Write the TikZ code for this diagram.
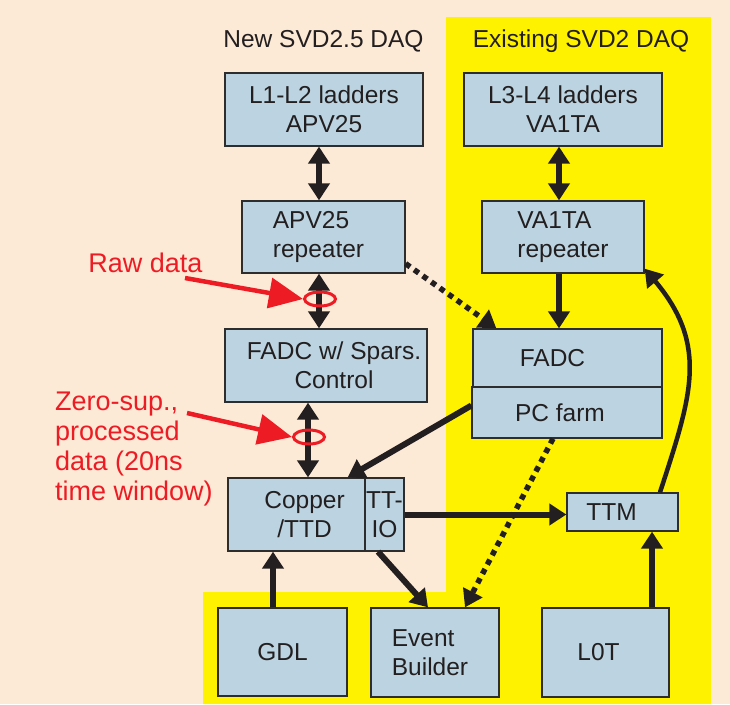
\documentclass[tikz,border=0pt]{standalone}
\usepackage{fontspec}
\setmainfont{Liberation Sans}
\usetikzlibrary{arrows.meta,shapes.geometric}
\definecolor{peach}{RGB}{253,234,214}
\definecolor{slideyellow}{RGB}{255,242,0}
\definecolor{boxblue}{RGB}{188,212,225}
\definecolor{boxline}{RGB}{45,45,45}
\definecolor{inkblack}{RGB}{35,31,32}
\definecolor{markred}{RGB}{237,28,36}
\begin{document}
\begin{tikzpicture}[
        x=1pt, y=-1pt,
        box/.style={draw=boxline, line width=1.3pt, fill=boxblue, inner sep=0pt, text=inkblack, align=center, font=\fontsize{24.5}{29}\selectfont},
        heading/.style={inner sep=0pt, text=inkblack, font=\fontsize{24.5}{29}\selectfont},
        redlabel/.style={inner sep=0pt, text=markred, align=left, font=\fontsize{27}{30}\selectfont},
        ring/.style={draw=markred, line width=3pt, ellipse, minimum width=31pt, minimum height=14pt, inner sep=0pt},
        flow/.style={draw=inkblack, line width=6pt, -{Triangle[length=17pt,width=21pt]}},
        dbl/.style={flow, {Triangle[length=17pt,width=21pt]}-{Triangle[length=17pt,width=21pt]}},
        dotflow/.style={flow, line width=5.5pt, dash pattern=on 5.5pt off 5pt},
        pointer/.style={draw=markred, line width=4.5pt, -{Triangle[length=34pt,width=30pt]}}
    ]

    \useasboundingbox (0,0) rectangle (730,704);
    \fill[peach] (0,0) rectangle (730,704);
    \fill[slideyellow] (446,17) -- (711,17) -- (711,704) -- (203,704) -- (203,592) -- (446,592) -- cycle;

    \node[heading] (newdaq) at (323.5,41) {New SVD2.5 DAQ};
    \node[heading] (olddaq) at (581,41) {Existing SVD2 DAQ};

    \node[box, minimum width=198pt, minimum height=73pt] (l12) at (324,109.5) {L1-L2 ladders\\APV25};
    \node[box, minimum width=198pt, minimum height=73pt] (l34) at (563,109.5) {L3-L4 ladders\\VA1TA};
    \node[box, align=left, minimum width=163pt, minimum height=72pt] (apvrep) at (323.5,237) {APV25\\repeater\hspace*{10pt}};
    \node[box, align=left, minimum width=162pt, minimum height=72pt] (varep) at (563,237) {VA1TA\\repeater};
    \node[box, minimum width=202pt, minimum height=73pt] (fadcsp) at (326,365.5) {\hspace*{16pt}FADC w/ Spars.\\\hspace*{16pt}Control};
    \node[box, minimum width=189pt, minimum height=58pt] (fadc) at (567.5,358) {FADC\hspace*{30pt}};
    \node[box, minimum width=190pt, minimum height=51pt] (pcfarm) at (567,412.5) {PC farm\hspace*{14pt}};
    \node[box, minimum width=137pt, minimum height=73pt] (copper) at (296.5,514.5) {\hspace*{16pt}Copper\\\hspace*{16pt}/TTD};
    \node[box, minimum width=39pt, minimum height=73pt] (ttio) at (384.5,514.5) {TT-\\IO};
    \node[box, minimum width=111pt, minimum height=38pt] (ttm) at (622.5,512) {TTM\hspace*{22pt}};
    \node[box, minimum width=129pt, minimum height=88pt] (gdl) at (282.5,652) {GDL};
    \node[box, align=left, minimum width=128pt, minimum height=89pt] (evb) at (435,652.5) {Event\\Builder\hspace*{10pt}};
    \node[box, minimum width=127pt, minimum height=89pt] (l0t) at (605.5,652.5) {L0T\hspace*{14pt}};

    \draw[dbl] ([xshift=-5pt]l12.south) -- ([xshift=-5pt]l12.south |- apvrep.north);
    \draw[dbl] ([xshift=-4pt]l34.south) -- ([xshift=-4pt]l34.south |- varep.north);
    \draw[dbl] ([xshift=-4.5pt]apvrep.south) -- ([xshift=-4.5pt]apvrep.south |- fadcsp.north);
    \draw[dbl] ([xshift=-18pt]fadcsp.south) -- ([xshift=-18pt]fadcsp.south |- copper.north);
    \draw[flow] ([xshift=-4pt]varep.south) -- ([xshift=-4pt]varep.south |- fadc.north);
    \draw[dotflow] ([yshift=10pt]apvrep.south east) -- ([xshift=24pt]fadc.north west);
    \draw[flow] ([yshift=7pt]pcfarm.west) -- ([xshift=-18pt]copper.north east);
    \draw[flow] (ttio.east) -- (ttio.east -| ttm.west);
    \draw[flow, line width=4.5pt] ([xshift=37.5pt]ttm.north) to[out=72, in=-50, looseness=1.15] ([yshift=5pt]varep.south east);
    \draw[dotflow] ([xshift=-14pt]pcfarm.south) -- ([xshift=30pt]evb.north);
    \draw[flow] ([xshift=-6.5pt]ttio.south) -- ([xshift=-7pt]evb.north);
    \draw[flow] ([xshift=-9.5pt]gdl.north) -- ([xshift=-9.5pt]gdl.north |- copper.south);
    \draw[flow] ([xshift=46.5pt]l0t.north) -- ([xshift=46.5pt]l0t.north |- ttm.south);

    \node[ring] (ring1) at (320,299) {};
    \node[ring] (ring2) at (309,437) {};
    \node[redlabel] (rawlbl) at (145.5,263) {Raw data};
    \node[redlabel, anchor=north west] (zslbl) at (55,392) {Zero-sup.,\\processed\\data (20ns\\time window)};
    \coordinate (rawtail) at (185,278);
    \coordinate (zstail) at (187,413);
    \draw[pointer] (rawtail) -- (ring1.west);
    \draw[pointer] (zstail) -- (ring2.west);

\end{tikzpicture}
\end{document}
